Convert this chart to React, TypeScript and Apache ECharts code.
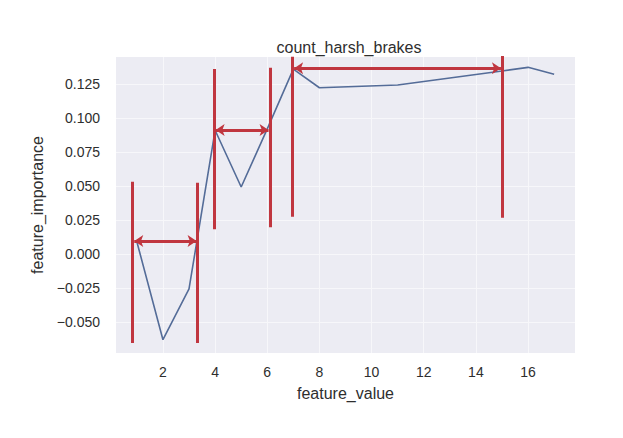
import React, { useEffect, useRef } from "react";
import * as echarts from "echarts";

const featureValues = [1, 2, 3, 4, 5, 6, 7, 8, 11, 15, 16, 17];
const importance = [0.009, -0.063, -0.0257, 0.091, 0.0493, 0.092, 0.136, 0.1223, 0.1243, 0.1346, 0.1373, 0.1322];

const xTicks = [2, 4, 6, 8, 10, 12, 14, 16];
const yTicks = [-0.05, -0.025, 0, 0.025, 0.05, 0.075, 0.1, 0.125];

// annotation vertical lines: [x, yBottom, yTop]
const vLines = [
  [0.84, -0.0654, 0.0532],
  [3.32, -0.0654, 0.0525],
  [3.97, 0.0182, 0.1361],
  [6.1, 0.0197, 0.137],
  [6.97, 0.0274, 0.145],
  [15.01, 0.0267, 0.1456],
];
// annotation double arrows: [xStart, xEnd, y]
const arrows = [
  [0.9, 3.29, 0.0096],
  [4.02, 6.05, 0.0912],
  [7.03, 14.96, 0.1366],
];

const RED = "#c0363f";
const FONT = "Liberation Sans";
const TEXT = "#2e2e2e";

export default function App() {
  const ref = useRef<HTMLDivElement>(null);
  useEffect(() => {
    const chart = echarts.init(ref.current!, null, { renderer: "svg" });
    const fmt = (v: number) => (v < 0 ? "\u2212" + Math.abs(v).toFixed(3) : v.toFixed(3));
    chart.setOption({
      animation: false,
      backgroundColor: "#ffffff",
      title: {
        text: "count_harsh_brakes",
        left: 344,
        textAlign: "center",
        top: 34,
        textStyle: { fontFamily: FONT, fontSize: 16, fontWeight: "normal", color: TEXT },
      },
      grid: {
        left: 116,
        right: 48,
        top: 57,
        bottom: 85,
        show: true,
        backgroundColor: "#ECECF3",
        borderWidth: 0,
      },
      xAxis: {
        type: "value",
        min: 0.2,
        max: 17.8,
        name: "feature_value",
        nameLocation: "middle",
        nameGap: 32,
        nameTextStyle: { fontFamily: FONT, fontSize: 16, color: TEXT },
        axisLine: { show: false },
        axisTick: { show: false, customValues: xTicks },
        axisLabel: {
          customValues: xTicks,
          margin: 12,
          fontFamily: FONT,
          fontSize: 14,
          color: TEXT,
        },
        splitLine: { show: true, lineStyle: { color: "#f7f7fa", width: 1 } },
      },
      yAxis: {
        type: "value",
        min: -0.0728,
        max: 0.1449,
        name: "feature_importance",
        nameLocation: "middle",
        nameGap: 64,
        nameTextStyle: { fontFamily: FONT, fontSize: 16, color: TEXT },
        axisLine: { show: false },
        axisTick: { show: false, customValues: yTicks },
        axisLabel: {
          customValues: yTicks,
          margin: 16,
          formatter: fmt,
          fontFamily: FONT,
          fontSize: 14,
          color: TEXT,
        },
        splitLine: { show: true, lineStyle: { color: "#f7f7fa", width: 1 } },
      },
      series: [
        {
          type: "line",
          data: featureValues.map((x, i) => [x, importance[i]]),
          showSymbol: false,
          symbol: "none",
          lineStyle: { color: "#546c98", width: 1.6 },
          z: 2,
        },
        {
          type: "lines",
          coordinateSystem: "cartesian2d",
          data: vLines.map((v) => ({ coords: [[v[0], v[1]], [v[0], v[2]]] })),
          symbol: "none",
          lineStyle: { color: RED, width: 3, opacity: 1 },
          z: 3,
        },
        {
          type: "lines",
          coordinateSystem: "cartesian2d",
          data: arrows.map((a) => ({ coords: [[a[0], a[2]], [a[1], a[2]]] })),
          symbol: ["arrow", "arrow"],
          symbolSize: 9,
          lineStyle: { color: RED, width: 3, opacity: 1 },
          z: 3,
        },
      ],
    });
    return () => chart.dispose();
  }, []);
  return <div ref={ref} style={{ position: "fixed", left: 0, top: 0, width: 623, height: 438 }} />;
}
